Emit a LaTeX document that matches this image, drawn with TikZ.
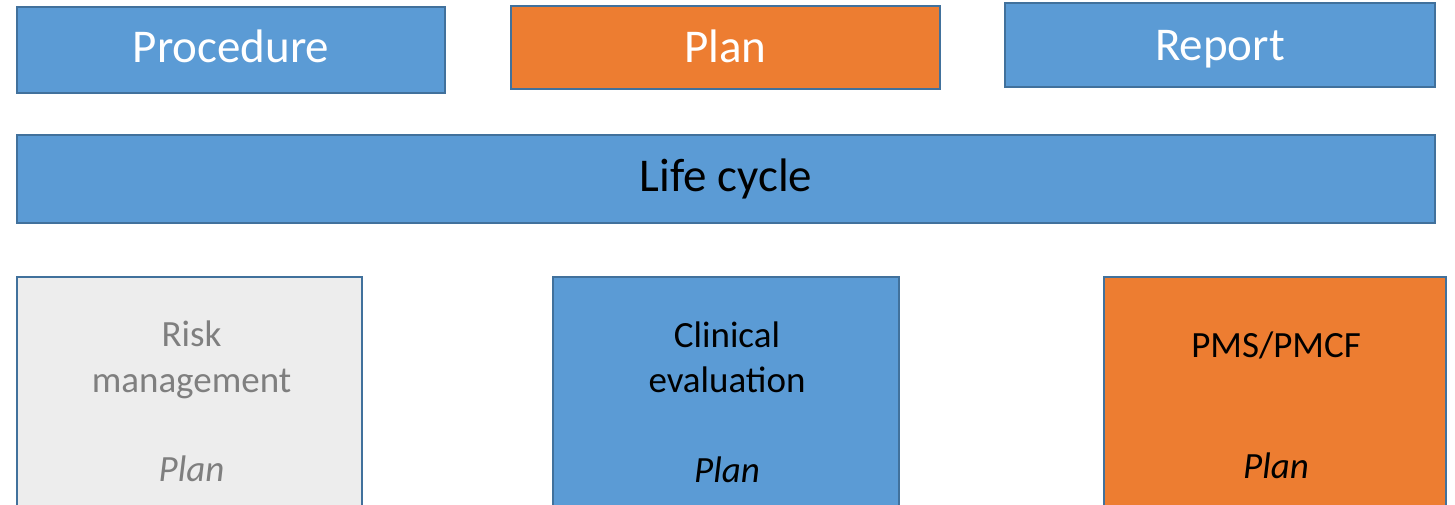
\documentclass[tikz,border=0pt]{standalone}
\usepackage{fontspec}
\setmainfont{Carlito}
\definecolor{boxblue}{HTML}{5B9BD5}
\definecolor{boxorange}{HTML}{ED7D31}
\definecolor{boxgray}{HTML}{EDEDED}
\definecolor{edgeblue}{HTML}{41719C}
\definecolor{textgray}{HTML}{7F7F7F}
\tikzset{
  panel/.style={draw=edgeblue, line width=2pt, inner sep=0pt, outer sep=0pt},
  bluepanel/.style={panel, fill=boxblue},
  orangepanel/.style={panel, fill=boxorange},
  graypanel/.style={panel, fill=boxgray},
  bigtext/.style={anchor=base, inner sep=0pt, font=\fontsize{47}{56}\selectfont},
  smalltext/.style={anchor=base, inner sep=0pt, font=\fontsize{37}{45}\selectfont},
}
\begin{document}
\begin{tikzpicture}[x=1pt, y=-1pt]
\useasboundingbox (0,0) rectangle (1455,505);
\clip (0,0) rectangle (1455,505);

% top row
\node[bluepanel, minimum width=428pt, minimum height=86pt, anchor=north west] (proc) at (17,7) {};
\node[orangepanel, minimum width=429pt, minimum height=83pt, anchor=north west] (plan) at (511,6) {};
\node[bluepanel, minimum width=430pt, minimum height=84pt, anchor=north west] (rep) at (1005,3) {};
\node[bigtext, text=white] (proct) at (231,63) {Procedure};
\node[bigtext, text=white] (plant) at (725.5,63) {Plan};
\node[bigtext, text=white] (rept) at (1220,61) {Report};

% life cycle band
\node[bluepanel, minimum width=1418pt, minimum height=88pt, anchor=north west] (life) at (17,135) {};
\node[bigtext, text=black] (lifet) at (726,192) {Life cycle};

% bottom row
\node[graypanel, minimum width=345pt, minimum height=260pt, anchor=north west] (risk) at (17,277) {};
\node[bluepanel, minimum width=346pt, minimum height=260pt, anchor=north west] (clin) at (553,277) {};
\node[orangepanel, minimum width=342pt, minimum height=260pt, anchor=north west] (pms) at (1104,277) {};

\node[smalltext, text=textgray] (risk1) at (191.5,346) {Risk};
\node[smalltext, text=textgray] (risk2) at (191.5,392) {management};
\node[smalltext, text=textgray] (risk3) at (191.5,481) {\itshape Plan};

\node[smalltext, text=black] (clin1) at (727,347) {Clinical};
\node[smalltext, text=black] (clin2) at (727,392) {evaluation};
\node[smalltext, text=black] (clin3) at (727,482) {\itshape Plan};

\node[smalltext, text=black] (pms1) at (1276,357) {PMS/PMCF};
\node[smalltext, text=black] (pms2) at (1276,478) {\itshape Plan};
\end{tikzpicture}
\end{document}
